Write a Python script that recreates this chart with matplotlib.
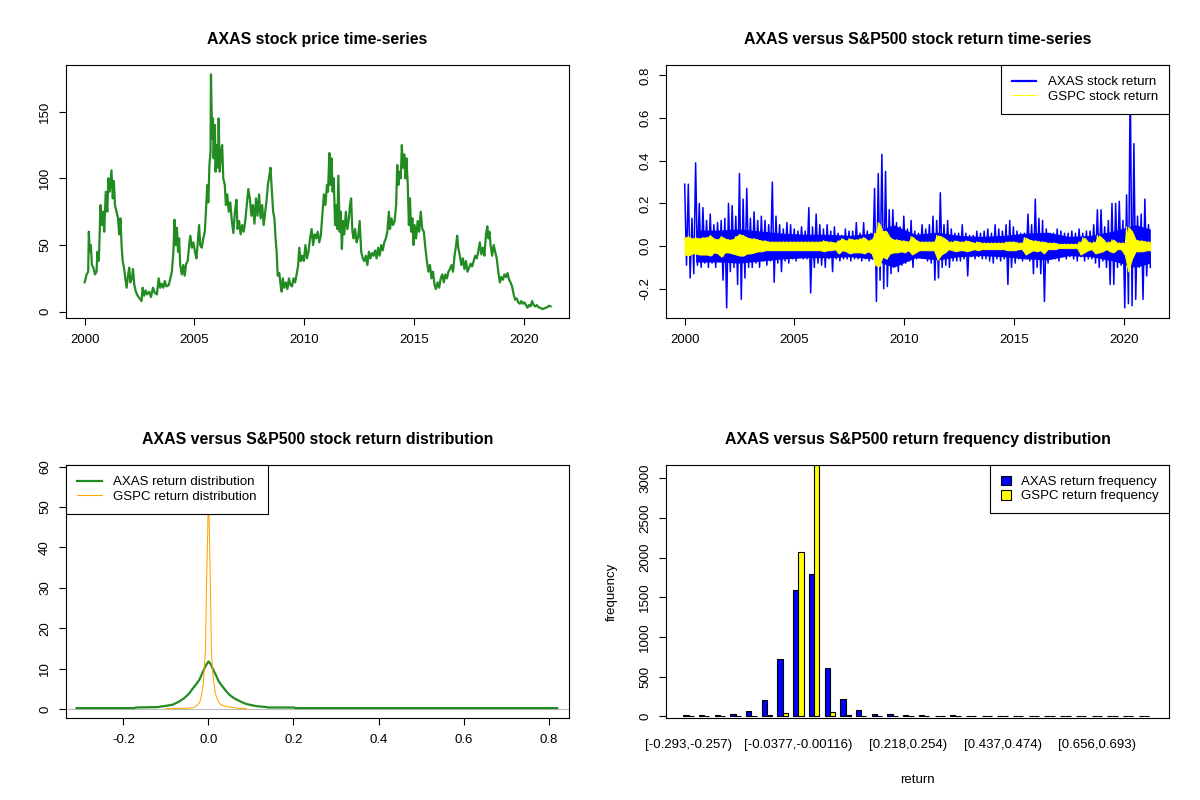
import numpy as np
import matplotlib
matplotlib.use("Agg")
import matplotlib.pyplot as plt

# ---- AXAS price (decimal year, close) ----
price_t = [2000.00, 2000.09, 2000.16, 2000.19, 2000.23, 2000.28, 2000.33, 2000.40, 2000.47, 2000.54,
           2000.58, 2000.63, 2000.66, 2000.72, 2000.79, 2000.84, 2000.89, 2000.96, 2001.03, 2001.08,
           2001.14, 2001.22, 2001.28, 2001.33, 2001.38, 2001.45, 2001.52, 2001.57, 2001.63, 2001.68,
           2001.73, 2001.80, 2001.85, 2001.91, 2001.98, 2002.03, 2002.08, 2002.15, 2002.20, 2002.26,
           2002.33, 2002.41, 2002.50, 2002.59, 2002.64, 2002.71, 2002.78, 2002.85, 2002.94, 2003.02,
           2003.11, 2003.20, 2003.29, 2003.37, 2003.44, 2003.51, 2003.58, 2003.65, 2003.72, 2003.83,
           2003.90, 2003.97, 2004.04, 2004.09, 2004.14, 2004.20, 2004.25, 2004.30, 2004.35, 2004.42,
           2004.49, 2004.55, 2004.62, 2004.69, 2004.76, 2004.81, 2004.88, 2004.95, 2005.02, 2005.09,
           2005.16, 2005.21, 2005.26, 2005.33, 2005.40, 2005.47, 2005.52, 2005.58, 2005.63, 2005.68,
           2005.73, 2005.75, 2005.80, 2005.84, 2005.87, 2005.93, 2005.96, 2006.01, 2006.07, 2006.10,
           2006.15, 2006.21, 2006.26, 2006.31, 2006.38, 2006.43, 2006.49, 2006.56, 2006.63, 2006.70,
           2006.77, 2006.84, 2006.91, 2006.96, 2007.03, 2007.10, 2007.17, 2007.24, 2007.31, 2007.38,
           2007.45, 2007.52, 2007.59, 2007.66, 2007.73, 2007.80, 2007.87, 2007.94, 2008.01, 2008.08,
           2008.15, 2008.22, 2008.29, 2008.34, 2008.39, 2008.46, 2008.53, 2008.58, 2008.64, 2008.69,
           2008.74, 2008.79, 2008.86, 2008.92, 2008.97, 2009.02, 2009.09, 2009.16, 2009.23, 2009.30,
           2009.37, 2009.44, 2009.51, 2009.58, 2009.65, 2009.72, 2009.77, 2009.84, 2009.91, 2009.98,
           2010.05, 2010.12, 2010.19, 2010.26, 2010.33, 2010.40, 2010.47, 2010.54, 2010.61, 2010.68,
           2010.75, 2010.82, 2010.89, 2010.96, 2011.03, 2011.08, 2011.14, 2011.19, 2011.24, 2011.29,
           2011.34, 2011.40, 2011.45, 2011.50, 2011.55, 2011.61, 2011.66, 2011.71, 2011.76, 2011.82,
           2011.89, 2011.96, 2012.03, 2012.08, 2012.13, 2012.19, 2012.24, 2012.31, 2012.38, 2012.45,
           2012.52, 2012.59, 2012.66, 2012.73, 2012.80, 2012.87, 2012.94, 2013.01, 2013.08, 2013.15,
           2013.22, 2013.29, 2013.36, 2013.43, 2013.50, 2013.57, 2013.64, 2013.71, 2013.78, 2013.85,
           2013.90, 2013.97, 2014.04, 2014.11, 2014.18, 2014.23, 2014.28, 2014.34, 2014.39, 2014.44,
           2014.49, 2014.55, 2014.60, 2014.65, 2014.71, 2014.76, 2014.81, 2014.86, 2014.92, 2014.97,
           2015.02, 2015.09, 2015.16, 2015.23, 2015.30, 2015.37, 2015.44, 2015.51, 2015.58, 2015.65,
           2015.72, 2015.79, 2015.86, 2015.93, 2015.99, 2016.07, 2016.14, 2016.21, 2016.28, 2016.35,
           2016.42, 2016.49, 2016.56, 2016.63, 2016.70, 2016.77, 2016.84, 2016.91, 2016.96, 2017.01,
           2017.08, 2017.15, 2017.22, 2017.29, 2017.36, 2017.43, 2017.50, 2017.57, 2017.64, 2017.71,
           2017.78, 2017.85, 2017.92, 2017.99, 2018.06, 2018.13, 2018.20, 2018.27, 2018.33, 2018.38,
           2018.43, 2018.48, 2018.55, 2018.62, 2018.69, 2018.76, 2018.83, 2018.90, 2018.97, 2019.04,
           2019.11, 2019.18, 2019.25, 2019.32, 2019.39, 2019.46, 2019.53, 2019.60, 2019.67, 2019.74,
           2019.81, 2019.88, 2019.95, 2020.02, 2020.09, 2020.16, 2020.23, 2020.30, 2020.37, 2020.44,
           2020.51, 2020.58, 2020.65, 2020.72, 2020.79, 2020.86, 2020.93, 2020.99, 2021.07, 2021.14,
           2021.21]
price_v = [22, 28, 30, 60, 45, 50, 35, 33, 28, 30,
           45, 38, 46, 80, 65, 75, 60, 90, 75, 100,
           90, 106, 85, 98, 80, 75, 70, 58, 70, 50,
           38, 32, 25, 18, 28, 33, 22, 25, 32, 20,
           15, 12, 10, 8, 18, 12, 16, 13, 15, 11,
           18, 14, 13, 25, 18, 21, 18, 23, 19, 20,
           25, 30, 45, 69, 50, 63, 45, 55, 35, 28,
           35, 27, 36, 38, 50, 57, 48, 52, 45, 40,
           55, 65, 50, 48, 55, 60, 75, 95, 82, 110,
           120, 178, 130, 145, 115, 140, 105, 125, 108, 145,
           105, 120, 125, 100, 95, 80, 88, 75, 82, 68,
           59, 75, 84, 62, 68, 58, 65, 60, 68, 80,
           92, 85, 72, 80, 66, 85, 72, 88, 70, 80,
           65, 75, 85, 95, 100, 108, 88, 75, 70, 55,
           45, 27, 29, 20, 15, 25, 18, 22, 17, 25,
           20, 19, 25, 22, 28, 35, 48, 38, 42, 38,
           50, 40, 45, 55, 62, 50, 58, 55, 60, 52,
           57, 72, 88, 80, 95, 90, 119, 95, 115, 90,
           100, 65, 80, 62, 102, 60, 75, 47, 68, 58,
           75, 62, 70, 80, 85, 60, 55, 62, 52, 56,
           68, 45, 40, 38, 42, 35, 45, 40, 44, 42,
           46, 40, 48, 42, 50, 46, 52, 55, 60, 75,
           62, 70, 65, 68, 80, 110, 95, 105, 100, 125,
           108, 118, 100, 115, 95, 65, 85, 60, 70, 50,
           65, 55, 68, 60, 75, 62, 60, 48, 38, 30,
           35, 25, 30, 20, 17, 22, 18, 25, 28, 22,
           28, 25, 30, 32, 35, 30, 42, 50, 57, 48,
           42, 35, 40, 32, 38, 30, 33, 36, 34, 38,
           42, 40, 45, 52, 43, 48, 42, 58, 64, 55,
           60, 50, 42, 50, 45, 40, 30, 22, 26, 24,
           28, 26, 29, 24, 22, 19, 13, 9, 10, 7,
           6, 8, 6, 7, 5, 3, 5, 4, 8, 5,
           4, 5, 3.5, 3, 2.5, 2, 2.5, 3, 3.5, 4.5,
           4]

# ---- daily returns, two-monthly high / low envelope (2000.0 - 2021.2) ----
axas_ret_hi = [0.29, 0.29, 0.13, 0.39, 0.20, 0.18,
               0.12, 0.15, 0.10, 0.11, 0.12, 0.13,
               0.20, 0.19, 0.14, 0.34, 0.22, 0.27,
               0.13, 0.16, 0.12, 0.14, 0.12, 0.10,
               0.30, 0.14, 0.10, 0.08, 0.11, 0.10,
               0.08, 0.07, 0.09, 0.07, 0.18, 0.09,
               0.15, 0.10, 0.08, 0.10, 0.07, 0.09,
               0.06, 0.05, 0.08, 0.07, 0.07, 0.11,
               0.06, 0.11, 0.07, 0.06, 0.27, 0.34,
               0.43, 0.35, 0.17, 0.17, 0.11, 0.09,
               0.14, 0.08, 0.12, 0.07, 0.06, 0.10,
               0.08, 0.10, 0.14, 0.12, 0.25, 0.10,
               0.12, 0.08, 0.06, 0.06, 0.10, 0.06,
               0.05, 0.05, 0.07, 0.06, 0.07, 0.08,
               0.06, 0.10, 0.08, 0.07, 0.10, 0.12,
               0.09, 0.07, 0.06, 0.06, 0.15, 0.10,
               0.22, 0.13, 0.12, 0.08, 0.06, 0.06,
               0.08, 0.07, 0.06, 0.06, 0.07, 0.06,
               0.08, 0.06, 0.07, 0.07, 0.10, 0.17,
               0.17, 0.09, 0.12, 0.20, 0.20, 0.21,
               0.12, 0.24, 0.80, 0.48, 0.14, 0.15,
               0.22, 0.10]
axas_ret_lo = [-0.09, -0.15, -0.13, -0.09, -0.10, -0.08,
               -0.10, -0.08, -0.10, -0.07, -0.16, -0.29,
               -0.12, -0.10, -0.18, -0.25, -0.15, -0.10,
               -0.10, -0.08, -0.10, -0.07, -0.09, -0.07,
               -0.17, -0.08, -0.12, -0.07, -0.08, -0.06,
               -0.07, -0.05, -0.06, -0.06, -0.22, -0.10,
               -0.08, -0.09, -0.10, -0.06, -0.12, -0.06,
               -0.07, -0.06, -0.06, -0.07, -0.06, -0.06,
               -0.07, -0.06, -0.07, -0.06, -0.26, -0.16,
               -0.20, -0.19, -0.13, -0.09, -0.12, -0.09,
               -0.08, -0.07, -0.10, -0.06, -0.05, -0.05,
               -0.07, -0.08, -0.16, -0.15, -0.10, -0.09,
               -0.10, -0.07, -0.07, -0.07, -0.06, -0.14,
               -0.05, -0.06, -0.05, -0.06, -0.06, -0.07,
               -0.08, -0.06, -0.07, -0.06, -0.18, -0.10,
               -0.08, -0.06, -0.07, -0.06, -0.07, -0.13,
               -0.10, -0.13, -0.26, -0.08, -0.06, -0.06,
               -0.07, -0.05, -0.06, -0.05, -0.06, -0.07,
               -0.05, -0.07, -0.06, -0.06, -0.08, -0.10,
               -0.07, -0.10, -0.18, -0.18, -0.10, -0.09,
               -0.29, -0.27, -0.28, -0.25, -0.10, -0.25,
               -0.14, -0.10]
gspc_ret_hi = [0.040, 0.045, 0.035, 0.040, 0.035, 0.040,
               0.040, 0.050, 0.035, 0.030, 0.045, 0.035,
               0.030, 0.030, 0.045, 0.055, 0.050, 0.040,
               0.035, 0.035, 0.030, 0.025, 0.025, 0.020,
               0.020, 0.020, 0.020, 0.020, 0.020, 0.020,
               0.020, 0.020, 0.020, 0.020, 0.020, 0.020,
               0.020, 0.020, 0.025, 0.020, 0.020, 0.015,
               0.025, 0.035, 0.025, 0.035, 0.030, 0.030,
               0.035, 0.040, 0.025, 0.030, 0.060, 0.110,
               0.070, 0.070, 0.040, 0.030, 0.030, 0.025,
               0.025, 0.020, 0.045, 0.030, 0.020, 0.020,
               0.020, 0.020, 0.020, 0.050, 0.045, 0.035,
               0.020, 0.020, 0.025, 0.020, 0.020, 0.025,
               0.020, 0.015, 0.020, 0.015, 0.015, 0.015,
               0.015, 0.015, 0.015, 0.015, 0.020, 0.020,
               0.020, 0.015, 0.015, 0.040, 0.030, 0.025,
               0.025, 0.020, 0.020, 0.015, 0.015, 0.015,
               0.010, 0.010, 0.010, 0.010, 0.010, 0.010,
               0.020, 0.040, 0.020, 0.015, 0.020, 0.050,
               0.035, 0.015, 0.020, 0.030, 0.015, 0.015,
               0.015, 0.090, 0.070, 0.030, 0.025, 0.025,
               0.020, 0.020]
gspc_ret_lo = [-0.040, -0.045, -0.035, -0.035, -0.040, -0.040,
               -0.040, -0.045, -0.030, -0.035, -0.050, -0.030,
               -0.030, -0.035, -0.040, -0.045, -0.045, -0.035,
               -0.035, -0.030, -0.025, -0.025, -0.020, -0.020,
               -0.020, -0.020, -0.020, -0.020, -0.020, -0.020,
               -0.020, -0.020, -0.020, -0.020, -0.020, -0.020,
               -0.020, -0.020, -0.025, -0.020, -0.020, -0.015,
               -0.035, -0.020, -0.025, -0.035, -0.030, -0.030,
               -0.030, -0.035, -0.025, -0.035, -0.090, -0.095,
               -0.050, -0.060, -0.035, -0.030, -0.030, -0.025,
               -0.030, -0.020, -0.040, -0.030, -0.020, -0.020,
               -0.020, -0.020, -0.020, -0.065, -0.040, -0.030,
               -0.015, -0.020, -0.025, -0.020, -0.020, -0.025,
               -0.020, -0.015, -0.020, -0.015, -0.015, -0.015,
               -0.015, -0.015, -0.015, -0.015, -0.020, -0.020,
               -0.020, -0.015, -0.015, -0.040, -0.030, -0.020,
               -0.025, -0.020, -0.035, -0.015, -0.015, -0.015,
               -0.010, -0.010, -0.010, -0.010, -0.010, -0.010,
               -0.040, -0.030, -0.020, -0.015, -0.035, -0.030,
               -0.025, -0.015, -0.025, -0.030, -0.015, -0.015,
               -0.040, -0.120, -0.060, -0.025, -0.025, -0.025,
               -0.020, -0.020]
ret_start, ret_end = 2000.0, 2021.2

# dense core of the daily returns, half-width per calendar year 2000..2021
core_years = [2000, 2001, 2002, 2003, 2004, 2005, 2006, 2007, 2008, 2009, 2010,
              2011, 2012, 2013, 2014, 2015, 2016, 2017, 2018, 2019, 2020, 2021]
axas_core = [0.075, 0.075, 0.080, 0.070, 0.060, 0.055, 0.055, 0.050, 0.060, 0.100, 0.055,
             0.065, 0.050, 0.045, 0.050, 0.060, 0.065, 0.045, 0.050, 0.070, 0.100, 0.080]

# ---- kernel density curves ----
axas_dens_x = [-0.31, -0.175, -0.17, -0.12, -0.10, -0.084, -0.07, -0.057, -0.045, -0.039,
               -0.03, -0.021, -0.014, -0.007, 0.0, 0.005, 0.011, 0.018, 0.024, 0.033,
               0.042, 0.05, 0.06, 0.075, 0.088, 0.10, 0.115, 0.137, 0.14, 0.20, 0.205, 0.82]
axas_dens_y = [0.25, 0.25, 0.4, 0.5, 0.8, 1.1, 1.8, 2.7, 3.9, 4.8,
               6.0, 7.3, 9.0, 10.6, 11.8, 11.2, 9.8, 8.3, 6.9, 5.6,
               4.4, 3.5, 2.7, 1.9, 1.3, 1.0, 0.7, 0.5, 0.4, 0.4, 0.25, 0.25]
gspc_dens_x = [-0.10, -0.05, -0.035, -0.03, -0.025, -0.021, -0.016, -0.012, -0.007, -0.0045,
               -0.002, 0.0, 0.002, 0.0045, 0.007, 0.009, 0.013, 0.016, 0.02, 0.025,
               0.029, 0.04, 0.05, 0.07, 0.09]
gspc_dens_y = [0.1, 0.2, 0.4, 0.7, 1.2, 1.5, 3.5, 6.4, 14.7, 31.0,
               42.0, 55.0, 45.0, 31.0, 14.7, 10.0, 6.4, 4.0, 2.7, 1.6,
               1.1, 0.7, 0.5, 0.2, 0.1]

# ---- return frequency (30 bins of width ~0.0365 starting at -0.293) ----
axas_freq = [15, 15, 15, 30, 70, 205, 720, 1590, 1792, 608,
             218, 80, 29, 29, 17, 15, 3, 15, 1, 0,
             0, 0, 0, 0, 0, 0, 1, 0, 0, 1]
gspc_freq = [0, 0, 0, 1, 1, 15, 42, 2069, 3200, 55,
             12, 3, 1, 1, 0, 0, 0, 0, 0, 0,
             0, 0, 0, 0, 0, 0, 0, 0, 0, 0]
freq_label_bins = [1, 8, 15, 21, 27]
freq_labels = ["[-0.293,-0.257)", "[-0.0377,-0.00116)", "[0.218,0.254)",
               "[0.437,0.474)", "[0.656,0.693)"]

plt.rcParams['font.family'] = ['Liberation Sans', 'DejaVu Sans']
plt.rcParams['font.size'] = 9.5
TITLE_SIZE = 11.4


def r_axes(ax):
    for s in ax.spines.values():
        s.set_linewidth(0.8)
    ax.tick_params(direction='out', length=5.2, width=0.8, pad=6.5)
    ax.tick_params(axis='y', labelrotation=90, pad=5.5)
    for lab in ax.get_yticklabels():
        lab.set_va('center')


def r_legend(ax, loc, **kw):
    opts = dict(loc=loc, borderaxespad=0, fancybox=False, framealpha=1,
                edgecolor='black', handlelength=1.85, handletextpad=0.85,
                borderpad=0.85, labelspacing=0.15)
    opts.update(kw)
    leg = ax.legend(**opts)
    leg.get_frame().set_linewidth(0.8)
    return leg


def zigzag(hi, lo):
    y = np.empty(2 * len(hi))
    y[0::2] = hi
    y[1::2] = lo
    x = np.linspace(ret_start, ret_end, len(y))
    return x, y


fig = plt.figure(figsize=(12, 8), dpi=100)
w, h = 503 / 1200, 253 / 800
ax1 = fig.add_axes([66 / 1200, 1 - 318 / 800, w, h])
ax2 = fig.add_axes([666 / 1200, 1 - 318 / 800, w, h])
ax3 = fig.add_axes([66 / 1200, 1 - 718 / 800, w, h])
ax4 = fig.add_axes([666 / 1200, 1 - 718 / 800, w, h])
year_ticks = [2000, 2005, 2010, 2015, 2020]

# price
ax1.plot(price_t, price_v, color='#228B22', lw=1.6)
ax1.set_xlim(1999.15, 2022.05)
ax1.set_ylim(-4.7, 185)
ax1.set_xticks(year_ticks)
ax1.set_yticks([0, 50, 100, 150])
ax1.set_title("AXAS stock price time-series", fontsize=TITLE_SIZE, fontweight='bold', pad=15)
r_axes(ax1)

# returns: AXAS first, GSPC drawn over it
core_t = np.clip(np.array(core_years) + 0.5, ret_start, ret_end)
xa, ya = zigzag(axas_ret_hi, axas_ret_lo)
ax2.fill_between(core_t, -np.array(axas_core), axas_core, color='#0000FF', lw=0, zorder=1)
ax2.plot(xa, ya, color='#0000FF', lw=1.1, label="AXAS stock return", zorder=2)
tg = np.linspace(ret_start, ret_end, len(gspc_ret_hi))
xg, yg = zigzag(gspc_ret_hi, gspc_ret_lo)
ax2.fill_between(tg, gspc_ret_lo, gspc_ret_hi, color='#FFFF00', lw=0.6,
                 edgecolor='#FFFF00', zorder=3)
ax2.plot(xg, yg, color='#FFFF00', lw=0.75, label="GSPC stock return", zorder=3)
ax2.set_xlim(1999.15, 2022.05)
ax2.set_ylim(-0.3375, 0.849)
ax2.set_xticks(year_ticks)
ax2.set_yticks([-0.2, 0.0, 0.2, 0.4, 0.6, 0.8])
ax2.set_yticklabels(["-0.2", "0.0", "0.2", "0.4", "0.6", "0.8"])
ax2.set_title("AXAS versus S&P500 stock return time-series", fontsize=TITLE_SIZE,
              fontweight='bold', pad=15)
r_axes(ax2)
leg = r_legend(ax2, 'upper right')
leg.get_lines()[0].set_linewidth(1.6)

# densities
ax3.axhline(0, color='#BEBEBE', lw=0.8)
ax3.plot(axas_dens_x, axas_dens_y, color='#228B22', lw=1.6, label="AXAS return distribution")
ax3.plot(gspc_dens_x, gspc_dens_y, color='#FFA500', lw=0.75, label="GSPC return distribution")
ax3.set_xlim(-0.335, 0.848)
ax3.set_ylim(-2.2, 60.4)
ax3.set_xticks([-0.2, 0.0, 0.2, 0.4, 0.6, 0.8])
ax3.set_xticklabels(["-0.2", "0.0", "0.2", "0.4", "0.6", "0.8"])
ax3.set_yticks([0, 10, 20, 30, 40, 50, 60])
ax3.set_title("AXAS versus S&P500 stock return distribution", fontsize=TITLE_SIZE,
              fontweight='bold', pad=15)
r_axes(ax3)
r_legend(ax3, 'upper left')

# frequency bars
grp = np.arange(len(axas_freq))
ax4.bar(3 * grp + 1, axas_freq, width=1, align='edge', color='#0000FF',
        edgecolor='black', lw=0.8, label="AXAS return frequency")
ax4.bar(3 * grp + 2, gspc_freq, width=1, align='edge', color='#FFFF00',
        edgecolor='black', lw=0.8, label="GSPC return frequency")
ax4.set_xlim(-2.3, 93.8)
ax4.set_ylim(-20, 3168)
ax4.set_yticks([0, 500, 1000, 1500, 2000, 2500, 3000])
ax4.set_xticks([3 * (b - 1) + 2 for b in freq_label_bins])
ax4.set_xticklabels(freq_labels)
ax4.set_title("AXAS versus S&P500 return frequency distribution", fontsize=TITLE_SIZE,
              fontweight='bold', pad=15)
ax4.set_xlabel("return", labelpad=17)
ax4.set_ylabel("frequency", labelpad=15)
r_axes(ax4)
ax4.tick_params(axis='x', length=0, pad=15)
r_legend(ax4, 'upper right', handlelength=0.75, handleheight=0.75,
         handletextpad=0.75, borderpad=0.8)

fig.savefig("out.png", dpi=100)
